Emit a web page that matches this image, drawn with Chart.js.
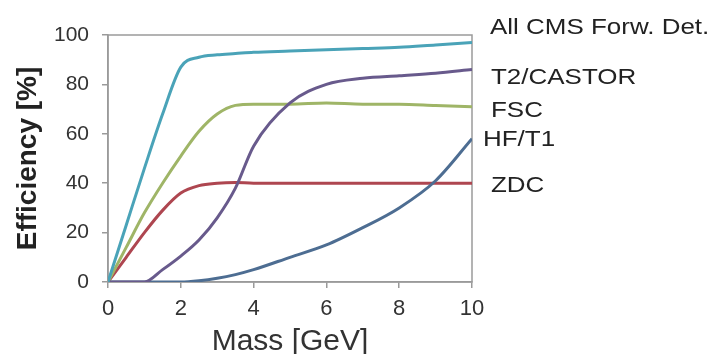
<!DOCTYPE html>
<html>
<head>
<meta charset="utf-8">
<script src="https://cdn.jsdelivr.net/npm/chart.js@4"></script>
<style>
  body { margin: 0; background: #fff; }
  canvas { display: block; }
</style>
</head>
<body>
<canvas id="effChart" width="721" height="354"></canvas>
<script>
// mass points [GeV]
var mass = [0, 0.5, 1, 1.5, 2, 2.5, 3, 3.5, 4, 5, 6, 7, 8, 9, 10];

// efficiency [%] per detector
var allCms   = [0, 23, 46, 68, 87, 91, 92, 92.5, 93, 93.5, 94, 94.5, 95, 96, 97];
var t2Castor = [0, 0, 0, 5, 10.5, 17, 26, 38, 55, 72.5, 80, 82.5, 83.5, 84.5, 86];
var fsc      = [0, 14, 28, 40, 51, 61, 68, 71.5, 72, 72, 72.5, 72, 72, 71.5, 71];
var hfT1     = [0, 0, 0, 0, 0, 0.5, 1.5, 3, 5, 10, 15, 22, 30, 41, 58];
var zdc      = [0, 10, 20, 29, 36, 39, 40, 40.3, 40, 40, 40, 40, 40, 40, 40];

var seriesNames = ['All CMS Forw. Det.', 'T2/CASTOR', 'FSC', 'HF/T1', 'ZDC'];
var xTicks = [0, 2, 4, 6, 8, 10];
var yTicks = [0, 20, 40, 60, 80, 100];

function pts(vals) {
    return mass.map(function(m, i) { return {x: m, y: vals[i]}; });
}

var colors = ['#4aa3b8', '#685a8c', '#9fb567', '#4d6d92', '#ae4650'];
var series = [allCms, t2Castor, fsc, hfT1, zdc];

var datasets = series.map(function(s, i) {
    return {
        label: seriesNames[i],
        data: pts(s),
        borderColor: colors[i],
        backgroundColor: colors[i],
        borderWidth: 3,
        pointRadius: 0,
        cubicInterpolationMode: 'monotone',
        fill: false
    };
});

// frame around plot area
var framePlugin = {
    id: 'frame',
    beforeDatasetsDraw: function(chart) {
        var a = chart.chartArea, ctx = chart.ctx;
        ctx.save();
        ctx.strokeStyle = '#9a9a9a';
        ctx.lineWidth = 1.5;
        ctx.strokeRect(a.left, a.top, a.right - a.left, a.bottom - a.top);
        ctx.restore();
    }
};

// direct labels on the right side
var labelPos = [
    {dx: 18, y: 102.8},
    {dx: 19, y: 82.6},
    {dx: 19, y: 69.4},
    {dx: 11, y: 57.5},
    {dx: 19, y: 38.9}
];
var sideLabels = {
    id: 'sideLabels',
    afterDraw: function(chart) {
        var ctx = chart.ctx, yScale = chart.scales.y, right = chart.chartArea.right;
        ctx.save();
        ctx.fillStyle = '#222';
        ctx.font = '22px "Liberation Sans", Arial, sans-serif';
        ctx.textBaseline = 'middle';
        ctx.textAlign = 'left';
        seriesNames.forEach(function(name, i) {
            ctx.save();
            ctx.translate(right + labelPos[i].dx, yScale.getPixelForValue(labelPos[i].y));
            ctx.scale(1.18, 1);
            ctx.fillText(name, 0, 0);
            ctx.restore();
        });
        ctx.restore();
    }
};

var ctx = document.getElementById('effChart').getContext('2d');
new Chart(ctx, {
    type: 'line',
    data: { datasets: datasets },
    plugins: [framePlugin, sideLabels],
    options: {
        responsive: false,
        animation: false,
        layout: { padding: { top: 35, right: 249, left: 0, bottom: 0 } },
        plugins: {
            legend: { display: false },
            tooltip: { enabled: false }
        },
        scales: {
            x: {
                type: 'linear',
                min: 0,
                max: 10,
                afterBuildTicks: function(s) { s.ticks = xTicks.map(function(v) { return {value: v}; }); },
                afterFit: function(s) { s.height = 72; },
                ticks: {
                    color: '#333',
                    font: { family: '"Liberation Sans", Arial, sans-serif', size: 22 },
                    padding: 8,
                    maxRotation: 0
                },
                grid: { drawOnChartArea: false, color: '#9a9a9a', tickLength: 6, lineWidth: 1.5 },
                border: { color: '#9a9a9a', width: 1.5 },
                title: {
                    display: true,
                    text: 'Mass [GeV]',
                    color: '#333',
                    font: { family: '"Liberation Sans", Arial, sans-serif', size: 30, lineHeight: 0.8 },
                    padding: 0
                }
            },
            y: {
                min: 0,
                max: 100,
                afterBuildTicks: function(s) { s.ticks = yTicks.map(function(v) { return {value: v}; }); },
                afterFit: function(s) { s.width = 108; },
                ticks: {
                    color: '#333',
                    font: { family: '"Liberation Sans", Arial, sans-serif', size: 21 },
                    padding: 13
                },
                grid: { drawOnChartArea: false, color: '#9a9a9a', tickLength: 6, lineWidth: 1.5 },
                border: { color: '#9a9a9a', width: 1.5 },
                title: {
                    display: true,
                    text: 'Efficiency [%]',
                    color: '#222',
                    font: { family: '"Liberation Sans", Arial, sans-serif', size: 28, weight: 'bold' },
                    padding: { top: 11, bottom: 0 }
                }
            }
        }
    }
});
</script>
</body>
</html>
